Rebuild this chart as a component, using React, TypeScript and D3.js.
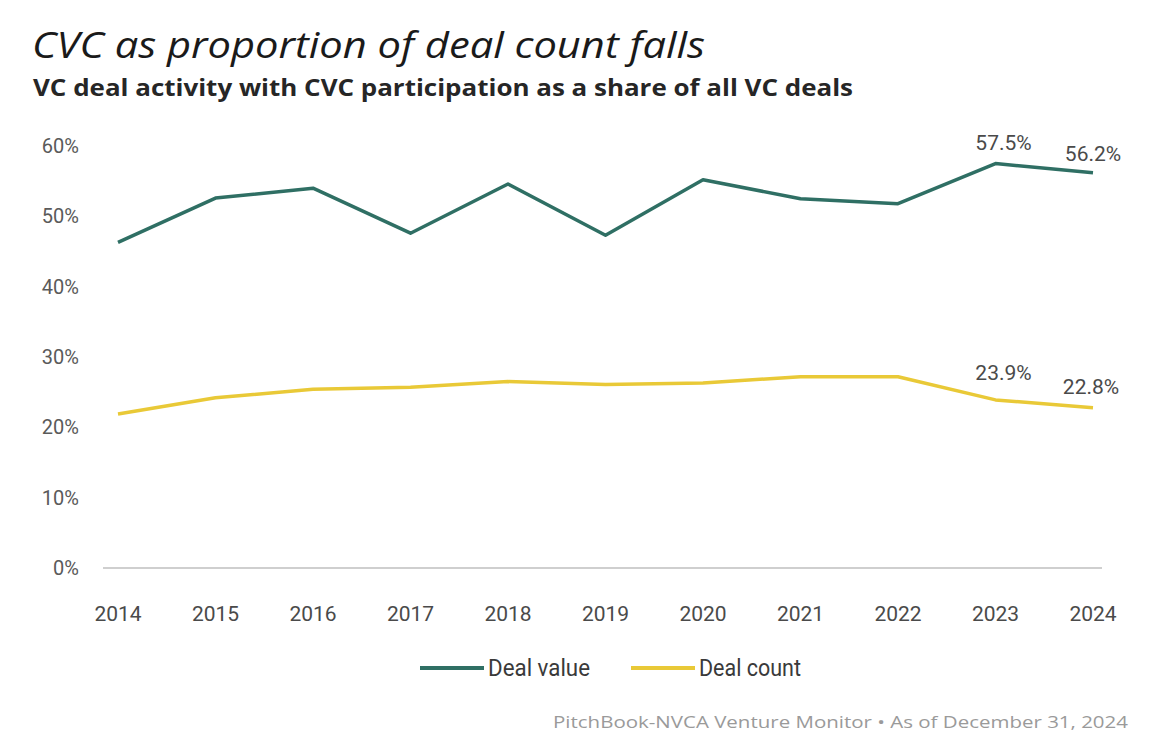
import React, { useRef, useEffect } from 'react';
import * as d3 from 'd3';

const years = [2014, 2015, 2016, 2017, 2018, 2019, 2020, 2021, 2022, 2023, 2024];
const dealValue = [46.3, 52.6, 54.0, 47.6, 54.6, 47.3, 55.2, 52.5, 51.8, 57.5, 56.2];
const dealCount = [21.9, 24.2, 25.4, 25.7, 26.5, 26.1, 26.3, 27.2, 27.2, 23.9, 22.8];
const yTicks = [0, 10, 20, 30, 40, 50, 60];

const WIDTH = 1162;
const HEIGHT = 756;
const TEAL = '#2f6f64';
const YELLOW = '#e9c937';
const TICK_FONT = '"Roboto", sans-serif';

const App: React.FC = () => {
  const svgRef = useRef<SVGSVGElement>(null);

  useEffect(() => {
    if (!svgRef.current) return;
    const svg = d3.select(svgRef.current);
    svg.selectAll('*').remove();

    const x = d3.scalePoint<number>().domain(years).range([118, 1093]);
    const y = d3.scaleLinear().domain([0, 60]).range([568, 146]);

    // titles
    svg.append('text')
      .attr('x', 32).attr('y', 58)
      .attr('textLength', 673)
      .attr('lengthAdjust', 'spacingAndGlyphs')
      .style('font-family', '"Open Sans", sans-serif')
      .style('font-style', 'italic')
      .style('font-size', '37px')
      .style('fill', '#1a1a1a')
      .text('CVC as proportion of deal count falls');

    svg.append('text')
      .attr('x', 33).attr('y', 96)
      .attr('textLength', 820)
      .attr('lengthAdjust', 'spacingAndGlyphs')
      .style('font-family', '"Open Sans", sans-serif')
      .style('font-weight', 'bold')
      .style('font-size', '23px')
      .style('fill', '#262626')
      .text('VC deal activity with CVC participation as a share of all VC deals');

    // y tick labels
    svg.append('g').selectAll('text')
      .data(yTicks)
      .enter().append('text')
      .attr('x', 79)
      .attr('y', d => y(d))
      .attr('dy', '0.35em')
      .attr('text-anchor', 'end')
      .style('font-family', TICK_FONT)
      .style('font-size', '20px')
      .style('fill', '#5a5a5a')
      .text(d => `${d}%`);

    // baseline
    svg.append('line')
      .attr('x1', 103).attr('x2', 1102)
      .attr('y1', y(0)).attr('y2', y(0))
      .attr('stroke', '#cfcfcf').attr('stroke-width', 2);

    // x tick labels
    svg.append('g').selectAll('text')
      .data(years)
      .enter().append('text')
      .attr('x', d => x(d) as number)
      .attr('y', 621)
      .attr('text-anchor', 'middle')
      .style('font-family', TICK_FONT)
      .style('font-size', '21px')
      .style('fill', '#4a4a4a')
      .text(d => String(d));

    const line = d3.line<number>()
      .x((_, i) => x(years[i]) as number)
      .y(d => y(d));

    svg.append('path')
      .datum(dealCount)
      .attr('d', line)
      .attr('fill', 'none')
      .attr('stroke', YELLOW)
      .attr('stroke-width', 3.5)
      .attr('stroke-linejoin', 'round');

    svg.append('path')
      .datum(dealValue)
      .attr('d', line)
      .attr('fill', 'none')
      .attr('stroke', TEAL)
      .attr('stroke-width', 3.5)
      .attr('stroke-linejoin', 'round');

    // data labels for last two years
    const labels = [
      { series: dealValue, i: 9, dx: 8, dy: -14 },
      { series: dealValue, i: 10, dx: 0, dy: -12 },
      { series: dealCount, i: 9, dx: 8, dy: -20 },
      { series: dealCount, i: 10, dx: -2, dy: -14 },
    ];
    svg.append('g').selectAll('text')
      .data(labels)
      .enter().append('text')
      .attr('x', d => (x(years[d.i]) as number) + d.dx)
      .attr('y', d => y(d.series[d.i]) + d.dy)
      .attr('text-anchor', 'middle')
      .style('font-family', TICK_FONT)
      .style('font-size', '21px')
      .style('fill', '#4a4a4a')
      .text(d => `${d.series[d.i].toFixed(1)}%`);

    // legend
    const legend = [
      { name: 'Deal value', color: TEAL, x: 420 },
      { name: 'Deal count', color: YELLOW, x: 631 },
    ];
    const lg = svg.append('g').selectAll('g')
      .data(legend)
      .enter().append('g')
      .attr('transform', d => `translate(${d.x},668)`);
    lg.append('line')
      .attr('x1', 0).attr('x2', 64)
      .attr('stroke', d => d.color)
      .attr('stroke-width', 4);
    lg.append('text')
      .attr('x', 68)
      .attr('dy', '0.35em')
      .attr('textLength', 102)
      .attr('lengthAdjust', 'spacingAndGlyphs')
      .style('font-family', TICK_FONT)
      .style('font-size', '23px')
      .style('fill', '#3a3a3a')
      .text(d => d.name);

    // source
    svg.append('text')
      .attr('x', 1128).attr('y', 728)
      .attr('text-anchor', 'end')
      .attr('textLength', 575)
      .attr('lengthAdjust', 'spacingAndGlyphs')
      .style('font-family', '"Open Sans", sans-serif')
      .style('font-size', '17px')
      .style('fill', '#9a9a9a')
      .text('PitchBook-NVCA Venture Monitor  \u2022  As of December 31, 2024');
  }, []);

  return (
    <svg
      ref={svgRef}
      width={WIDTH}
      height={HEIGHT}
      viewBox={`0 0 ${WIDTH} ${HEIGHT}`}
      style={{ position: 'absolute', left: 0, top: 0, background: '#fff' }}
    />
  );
};

export default App;
